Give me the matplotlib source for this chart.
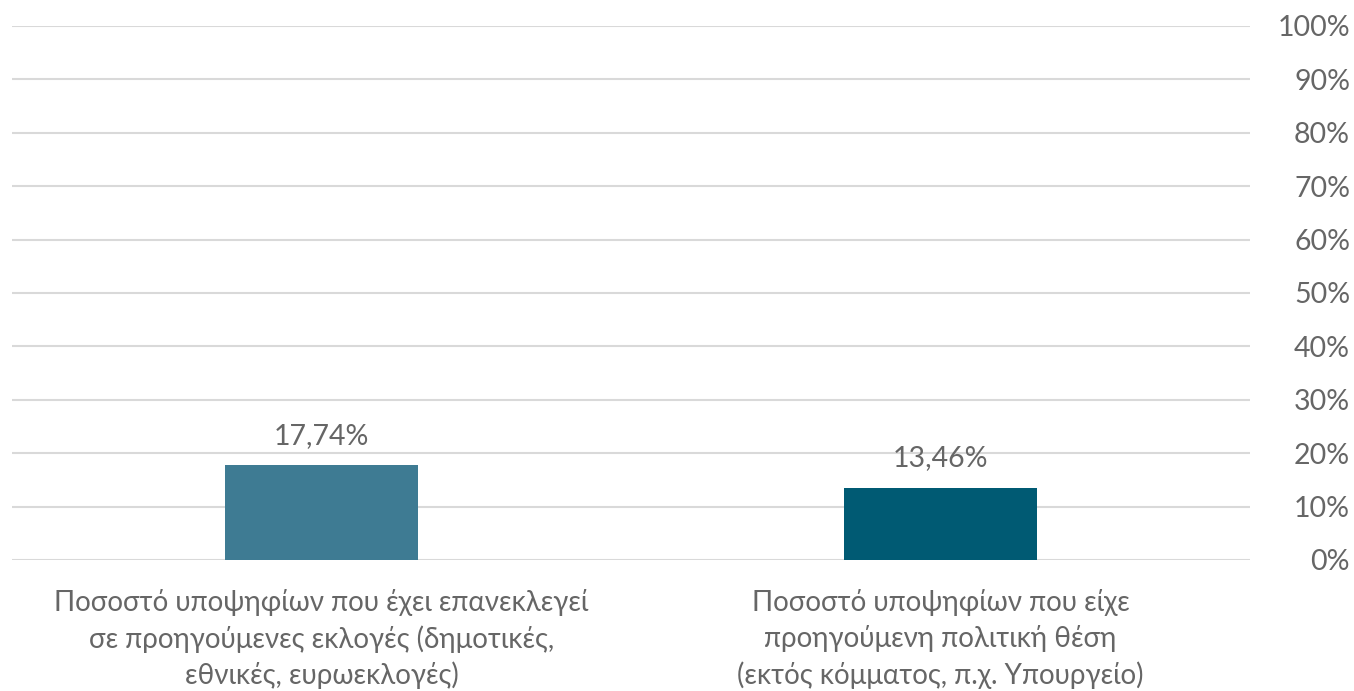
import matplotlib.pyplot as plt

categories = [
    "Ποσοστό υποψηφίων που έχει επανεκλεγεί\nσε προηγούμενες εκλογές (δημοτικές,\nεθνικές, ευρωεκλογές)",
    "Ποσοστό υποψηφίων που είχε\nπροηγούμενη πολιτική θέση\n(εκτός κόμματος, π.χ. Υπουργείο)",
]
values = [17.74, 13.46]
value_labels = ["17,74%", "13,46%"]
bar_colors = ["#3E7B93", "#005A73"]
y_ticks = [0, 10, 20, 30, 40, 50, 60, 70, 80, 90, 100]

plt.rcParams["font.family"] = ["Lato", "DejaVu Sans"]
text_color = "#666666"
fs = 20.5

fig = plt.figure(figsize=(13.54, 6.91), dpi=100)
ax = fig.add_axes([0.0089, 0.1896, 0.9143, 0.7728])

x = range(len(categories))
bars = ax.bar(x, values, width=0.313, color=bar_colors, zorder=3)

for b, lab in zip(bars, value_labels):
    ax.annotate(lab, (b.get_x() + b.get_width() / 2, b.get_height()),
                xytext=(0, 12), textcoords="offset points",
                ha="center", va="bottom", fontsize=fs, color=text_color)

ax.set_xlim(-0.5, 1.5)
ax.set_ylim(0, 100)
ax.set_yticks(y_ticks)
ax.set_yticklabels([f"{t}%" for t in y_ticks])
ax.yaxis.tick_right()
ax.tick_params(axis="y", length=0, pad=72, labelsize=fs, labelcolor=text_color)
for t in ax.get_yticklabels():
    t.set_horizontalalignment("right")

ax.set_xticks(list(x))
ax.set_xticklabels(categories, linespacing=1.4)
ax.tick_params(axis="x", length=0, pad=21, labelsize=20, labelcolor=text_color)

ax.grid(axis="y", color="#D9D9D9", linewidth=1.5, zorder=0)
for s in ax.spines.values():
    s.set_visible(False)

fig.savefig("out.png", dpi=100)
